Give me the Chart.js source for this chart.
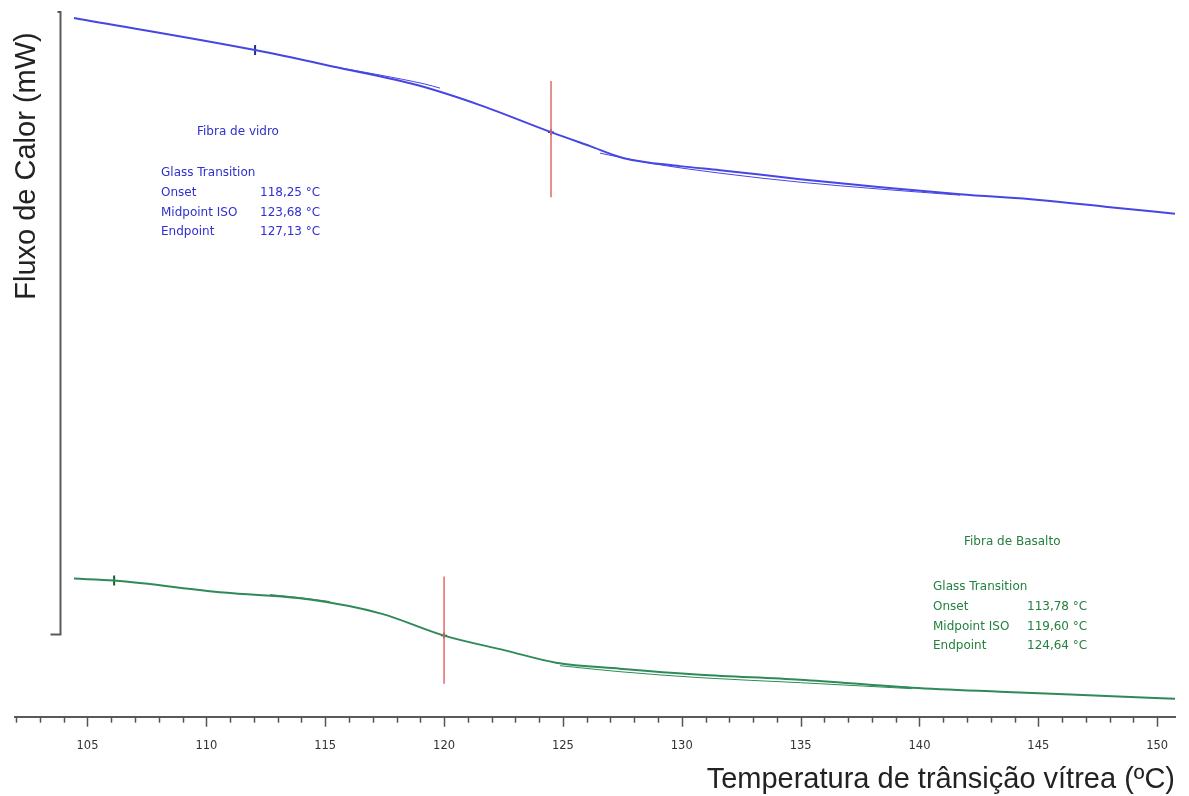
<!DOCTYPE html>
<html>
<head>
<meta charset="utf-8">
<script src="https://cdn.jsdelivr.net/npm/chart.js@4/dist/chart.umd.min.js"></script>
<style>
  html, body { margin: 0; padding: 0; background: #ffffff; }
  #wrap { width: 1189px; height: 796px; }
</style>
</head>
<body>
<div id="wrap"><canvas id="c" width="1189" height="796"></canvas></div>
<script>
// ---- Data (temperature in °C, heat flow in arbitrary mW units) ----
const vidroT   = [104.43, 112.05, 115.62, 118.86, 121.51, 124.50, 126.14, 127.57, 129.93, 131.61, 134.98, 138.38, 141.71, 145.16, 148.02, 150.75];
const vidroHF  = [9.915, 9.460, 9.205, 8.963, 8.679, 8.295, 8.097, 7.926, 7.813, 7.756, 7.628, 7.514, 7.415, 7.330, 7.230, 7.138];
const vidroTanAfterT  = [126.56, 128.67, 131.61, 134.98, 138.38, 141.71];
const vidroTanAfterHF = [7.997, 7.855, 7.713, 7.585, 7.486, 7.401];
const vidroTanBeforeT  = [115.20, 117.31, 119.20, 119.83];
const vidroTanBeforeHF = [9.233, 9.105, 8.977, 8.920];

const basaltoT  = [104.43, 106.12, 110.74, 114.36, 117.35, 120.00, 122.61, 124.71, 127.40, 130.77, 134.98, 139.69, 143.39, 147.60, 150.75];
const basaltoHF = [1.960, 1.932, 1.761, 1.662, 1.463, 1.151, 0.938, 0.767, 0.682, 0.597, 0.526, 0.412, 0.355, 0.298, 0.256];
const basaltoTanAfterT  = [124.88, 127.40, 130.77, 134.98, 139.69];
const basaltoTanAfterHF = [0.724, 0.639, 0.554, 0.483, 0.398];
const basaltoTanBeforeT  = [112.68, 113.94, 115.20];
const basaltoTanBeforeHF = [1.733, 1.690, 1.634];

// red marker lines (vertical) at the drawn midpoint positions
const vidroMidLineT = 124.5,   vidroMidLineHF = [9.020, 7.372],   vidroMidHF = 8.295;
const basaltoMidLineT = 120.0, basaltoMidLineHF = [1.989, 0.469], basaltoMidHF = 1.151;
// small start-of-evaluation marks
const vidroMarkT = 112.05,   vidroMarkHF = 9.46;
const basaltoMarkT = 106.12, basaltoMarkHF = 1.932;

// axis
const xMin = 101.95, xMax = 150.75, xStep = 1, xLabelEvery = 5;
const yMin = 0, yMax = 10;
const yAxisAtT = 103.85, yAxisBottomHF = 1.165;

// annotation texts
const vidroTitle = 'Fibra de vidro';
const basaltoTitle = 'Fibra de Basalto';
const tgLabels = ['Onset', 'Midpoint ISO', 'Endpoint'];
const vidroTgValues = ['118,25 °C', '123,68 °C', '127,13 °C'];
const basaltoTgValues = ['113,78 °C', '119,60 °C', '124,64 °C'];

const xTitle = 'Temperatura de trânsição vítrea (ºC)';
const yTitle = 'Fluxo de Calor (mW)';

// ---- helpers ----
const pts = (xs, ys) => xs.map((x, i) => ({ x: x, y: ys[i] }));
const BLUE = '#4646e4', GREEN = '#2f8a58', RED = '#e06a6a';
const BLUE_TXT = '#2f2fd2', GREEN_TXT = '#23803f';

const lineDs = (data, color, w) => ({
  data, borderColor: color, borderWidth: w, pointRadius: 0,
  cubicInterpolationMode: 'monotone', fill: false
});

const annotPlugin = {
  id: 'annot',
  afterDatasetsDraw(chart) {
    const ctx = chart.ctx;
    const xs = chart.scales.x, ys = chart.scales.y;
    ctx.save();
    // y axis bracket
    const ax = Math.round(xs.getPixelForValue(yAxisAtT)) + 0.5;
    const yt = ys.getPixelForValue(yMax), yb = ys.getPixelForValue(yAxisBottomHF);
    ctx.strokeStyle = '#5a5a5a'; ctx.lineWidth = 2;
    ctx.beginPath();
    ctx.moveTo(ax - 3, yt); ctx.lineTo(ax, yt); ctx.lineTo(ax, yb); ctx.lineTo(ax - 10, yb);
    ctx.stroke();
    // x ticks (major longer)
    const by = xs.top;
    ctx.lineWidth = 1.5; ctx.strokeStyle = '#555';
    xs.ticks.forEach(t => {
      const px = Math.round(xs.getPixelForValue(t.value)) + 0.5;
      const len = (Math.abs(t.value % xLabelEvery) < 1e-6) ? 10 : 6;
      ctx.beginPath(); ctx.moveTo(px, by); ctx.lineTo(px, by + len); ctx.stroke();
    });
    // text annotations
    ctx.font = '12px "DejaVu Sans"';
    ctx.textBaseline = 'middle'; ctx.textAlign = 'left';
    const block = (color, title, tx, ty, lx, gy, vx, values) => {
      ctx.fillStyle = color;
      ctx.fillText(title, tx, ty);
      ctx.fillText('Glass Transition', lx, gy);
      tgLabels.forEach((l, i) => {
        ctx.fillText(l, lx, gy + 19.7 * (i + 1));
        ctx.fillText(values[i], vx, gy + 19.7 * (i + 1));
      });
    };
    block(BLUE_TXT, vidroTitle, 197, 132, 161, 173, 260, vidroTgValues);
    block(GREEN_TXT, basaltoTitle, 964, 542, 933, 587, 1027, basaltoTgValues);
    // y title
    ctx.fillStyle = '#222';
    ctx.font = '29px "Liberation Sans"';
    ctx.translate(27, 166); ctx.rotate(-Math.PI / 2);
    ctx.textAlign = 'center';
    ctx.fillText(yTitle, 0, 0);
    ctx.restore();
  }
};

new Chart(document.getElementById('c'), {
  type: 'line',
  data: {
    datasets: [
      lineDs(pts(vidroTanAfterT, vidroTanAfterHF), BLUE, 1),
      lineDs(pts(vidroTanBeforeT, vidroTanBeforeHF), BLUE, 1),
      lineDs(pts(basaltoTanAfterT, basaltoTanAfterHF), GREEN, 1),
      lineDs(pts(basaltoTanBeforeT, basaltoTanBeforeHF), GREEN, 1),
      { data: pts([vidroMidLineT, vidroMidLineT], vidroMidLineHF), borderColor: RED, borderWidth: 1.5, pointRadius: 0 },
      { data: pts([basaltoMidLineT, basaltoMidLineT], basaltoMidLineHF), borderColor: RED, borderWidth: 1.5, pointRadius: 0 },
      lineDs(pts(vidroT, vidroHF), BLUE, 2),
      lineDs(pts(basaltoT, basaltoHF), GREEN, 2),
      { data: [{ x: vidroMidLineT, y: vidroMidHF }], showLine: false, pointStyle: 'cross', pointRadius: 3, borderColor: '#2a2a60', borderWidth: 1.5 },
      { data: [{ x: basaltoMidLineT, y: basaltoMidHF }], showLine: false, pointStyle: 'cross', pointRadius: 3, borderColor: '#1d3d25', borderWidth: 1.5 },
      { data: [{ x: vidroMarkT, y: vidroMarkHF }], showLine: false, pointStyle: 'line', rotation: 90, pointRadius: 5, borderColor: '#2a2a90', borderWidth: 2 },
      { data: [{ x: basaltoMarkT, y: basaltoMarkHF }], showLine: false, pointStyle: 'line', rotation: 90, pointRadius: 5, borderColor: '#1d5d35', borderWidth: 2 }
    ]
  },
  options: {
    responsive: false,
    animation: false,
    events: [],
    layout: { padding: { left: 15, right: 14, top: 12, bottom: 0 } },
    plugins: { legend: { display: false }, tooltip: { enabled: false }, title: { display: false } },
    scales: {
      x: {
        type: 'linear', min: xMin, max: xMax,
        border: { display: true, color: '#5a5a5a', width: 2 },
        grid: { display: true, drawOnChartArea: false, drawTicks: true, tickLength: 11, tickColor: 'rgba(0,0,0,0)' },
        ticks: {
          stepSize: xStep, autoSkip: false, includeBounds: false, maxRotation: 0, padding: 11,
          color: '#333333', font: { family: 'DejaVu Sans', size: 11.5 },
          callback: v => (Math.abs(v % xLabelEvery) < 1e-6 ? String(v) : '')
        },
        title: {
          display: true, text: xTitle, align: 'end', color: '#222',
          font: { family: 'Liberation Sans', size: 29, lineHeight: 1.12 }, padding: { top: 0, bottom: 0 }
        }
      },
      y: { type: 'linear', min: yMin, max: yMax, display: false }
    }
  },
  plugins: [annotPlugin]
});
</script>
</body>
</html>
